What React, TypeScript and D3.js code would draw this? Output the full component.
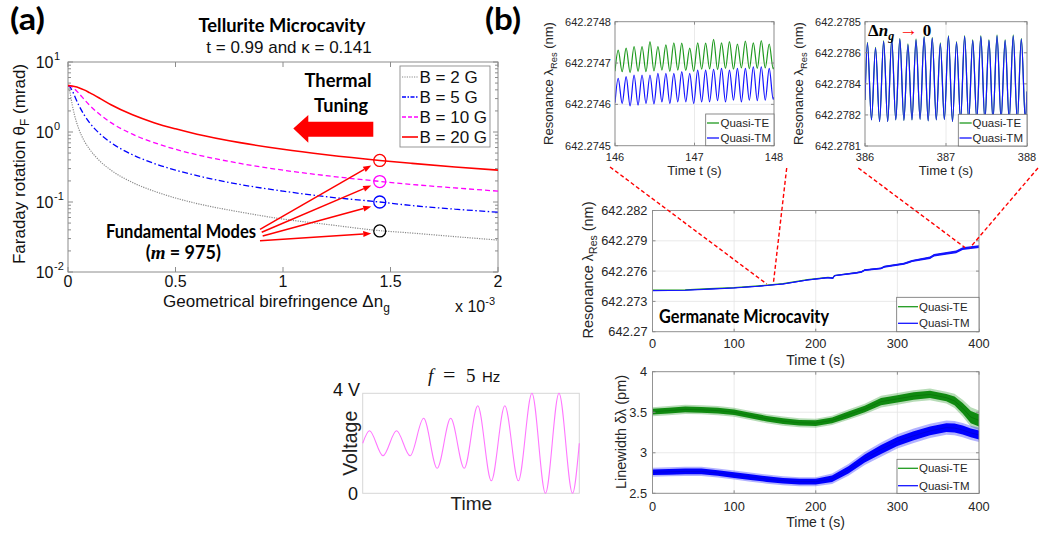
import React from "react";
import * as d3 from "d3";

const SANS = "'Liberation Sans', Arial, Helvetica, sans-serif";
const CAL = "Lato, 'Open Sans', 'DejaVu Sans', sans-serif";
const SERIF = "'Liberation Serif', 'DejaVu Serif', serif";

/* ---------------- Panel (a): Faraday rotation vs birefringence ---------------- */
const dnGrid = [0, 0.005, 0.01, 0.02, 0.03, 0.05, 0.075, 0.1, 0.15, 0.2, 0.3, 0.4, 0.5, 0.6, 0.8, 1.0, 1.2, 1.45, 1.6, 1.8, 2.0];
const theta2G = [4.6, 4.27, 3.58, 2.42, 1.76, 1.11, 0.75, 0.57, 0.38, 0.285, 0.19, 0.143, 0.114, 0.095, 0.072, 0.057, 0.048, 0.039, 0.036, 0.032, 0.0286];
const theta5G = [4.6, 4.54, 4.38, 3.87, 3.31, 2.42, 1.76, 1.36, 0.93, 0.705, 0.473, 0.356, 0.285, 0.238, 0.178, 0.143, 0.119, 0.1, 0.089, 0.079, 0.0715];
const theta10G = [4.6, 4.58, 4.54, 4.38, 4.14, 3.58, 2.93, 2.42, 1.76, 1.36, 0.93, 0.705, 0.566, 0.473, 0.356, 0.285, 0.238, 0.197, 0.178, 0.159, 0.143];
const theta20G = [4.6, 4.6, 4.59, 4.54, 4.47, 4.3, 4.0, 3.65, 3.0, 2.45, 1.76, 1.36, 1.11, 0.93, 0.705, 0.566, 0.473, 0.392, 0.356, 0.316, 0.285];
const fieldLabels = ["B = 2 G", "B = 5 G", "B = 10 G", "B = 20 G"];
const modeDn = 1.45;
const modeTheta = [0.0386, 0.1, 0.196, 0.392];
const dnTicks = [0, 0.5, 1, 1.5, 2];
const dnTickLabels = ["0", "0.5", "1", "1.5", "2"];
const thetaTicks = [0.01, 0.1, 1, 10];
const thetaExps = ["-2", "-1", "0", "1"];

/* ---------------- Panel (b) inset 146-148 s ---------------- */
const insetATimes = [146.0, 146.04, 146.09, 146.14, 146.19, 146.24, 146.29, 146.34, 146.39, 146.44, 146.49, 146.54, 146.59, 146.64, 146.69, 146.74, 146.79, 146.84, 146.89, 146.94, 146.99, 147.04, 147.09, 147.14, 147.19, 147.24, 147.29, 147.34, 147.39, 147.44, 147.49, 147.54, 147.59, 147.64, 147.69, 147.74, 147.79, 147.84, 147.89, 147.94, 147.99, 148.0];
const insetATE = [642.27468, 642.274731, 642.274679, 642.274736, 642.274677, 642.27474, 642.27468, 642.27474, 642.274679, 642.274752, 642.274681, 642.27474, 642.274683, 642.274744, 642.27468, 642.274749, 642.274683, 642.274748, 642.274682, 642.274736, 642.27468, 642.274749, 642.274685, 642.274748, 642.274686, 642.274757, 642.274684, 642.274749, 642.274687, 642.274752, 642.274685, 642.274746, 642.274688, 642.274753, 642.274686, 642.274749, 642.274687, 642.274754, 642.274688, 642.274746, 642.274686, 642.27469];
const insetATM = [642.274604, 642.274663, 642.274602, 642.274667, 642.274596, 642.274671, 642.274598, 642.274671, 642.274602, 642.274671, 642.274601, 642.274675, 642.274606, 642.274675, 642.274602, 642.274675, 642.274606, 642.274679, 642.274606, 642.274675, 642.274602, 642.274683, 642.274606, 642.274683, 642.274606, 642.274685, 642.274609, 642.274687, 642.274606, 642.274683, 642.27461, 642.274687, 642.274606, 642.274687, 642.27461, 642.274691, 642.274609, 642.274691, 642.27461, 642.274687, 642.274612, 642.274618];
const insetAYTicks = [642.2745, 642.2746, 642.2747, 642.2748];
const insetAYLabels = ["642.2745", "642.2746", "642.2747", "642.2748"];
const insetAXTicks = [146, 147, 148];

/* ---------------- Panel (b) inset 386-388 s ---------------- */
const insetBTimes = [386.0, 386.03, 386.08, 386.13, 386.18, 386.23, 386.28, 386.33, 386.38, 386.43, 386.48, 386.53, 386.58, 386.63, 386.68, 386.73, 386.78, 386.83, 386.88, 386.93, 386.98, 387.03, 387.08, 387.13, 387.18, 387.23, 387.28, 387.33, 387.38, 387.43, 387.48, 387.53, 387.58, 387.63, 387.68, 387.73, 387.78, 387.83, 387.88, 387.93, 387.98, 388.0];
const insetBTM = [642.2783226, 642.2785968, 642.278226, 642.2785726, 642.278218, 642.2786048, 642.278218, 642.2786129, 642.278226, 642.2786161, 642.278224, 642.2785887, 642.278226, 642.2786129, 642.278229, 642.2786258, 642.278221, 642.278621, 642.278226, 642.2785935, 642.278228, 642.278629, 642.278218, 642.2786, 642.278226, 642.278629, 642.278224, 642.2786097, 642.278226, 642.278629, 642.278222, 642.2786097, 642.278226, 642.2786323, 642.278228, 642.2786097, 642.278226, 642.2786323, 642.278223, 642.2786161, 642.278226, 642.278363];
const insetBTE = [642.2783226, 642.2786008, 642.278226, 642.2785766, 642.278218, 642.2786088, 642.278218, 642.2786169, 642.278226, 642.2786201, 642.278224, 642.2785927, 642.278226, 642.2786169, 642.278229, 642.2786298, 642.278221, 642.278625, 642.278226, 642.2785975, 642.278228, 642.278633, 642.278218, 642.278604, 642.278226, 642.278633, 642.278224, 642.2786137, 642.278226, 642.278633, 642.278222, 642.2786137, 642.278226, 642.2786363, 642.278228, 642.2786137, 642.278226, 642.2786363, 642.278223, 642.2786201, 642.278226, 642.278363];
const insetBYTicks = [642.2781, 642.27825, 642.2784, 642.27855, 642.2787];
const insetBYLabels = ["642.2781", "642.2782", "642.2784", "642.2786", "642.2785"];
const insetBXTicks = [386, 387, 388];

/* ---------------- Panel (b) resonance drift 0-400 s ---------------- */
const mainTimes = [0, 40, 70, 100, 130, 147, 160, 190, 215, 221, 223, 250, 256, 260, 280, 284, 308, 314, 318, 340, 345, 372, 380, 400];
const mainTM = [642.27407, 642.2741, 642.27422, 642.27433, 642.2745, 642.27463, 642.27473, 642.27512, 642.27535, 642.2753, 642.27555, 642.27583, 642.27592, 642.2761, 642.27627, 642.27643, 642.27673, 642.27688, 642.277, 642.27733, 642.27757, 642.2779, 642.27823, 642.27843];
const mainTE = [642.27411, 642.27414, 642.27426, 642.27437, 642.27454, 642.27466, 642.27476, 642.27515, 642.27538, 642.27533, 642.27557, 642.27585, 642.27593, 642.27611, 642.27628, 642.27644, 642.27674, 642.27689, 642.27701, 642.27734, 642.27758, 642.27791, 642.27824, 642.27844];
const mainTMSpread = [0.00003, 0.00003, 0.00003, 0.00004, 0.00004, 0.00004, 0.00005, 0.00006, 0.00006, 0.00007, 0.00007, 0.00008, 0.00008, 0.00009, 0.00009, 0.0001, 0.0001, 0.00011, 0.00011, 0.00012, 0.00012, 0.00013, 0.00013, 0.00014];
const mainYTicks = [642.27, 642.273, 642.276, 642.279, 642.282];
const mainYLabels = ["642.27", "642.273", "642.276", "642.279", "642.282"];
const timeTicks = [0, 100, 200, 300, 400];

/* ---------------- Panel (b) linewidth 0-400 s ---------------- */
const lwTimes = [0, 20, 40, 60, 80, 100, 120, 140, 160, 180, 200, 220, 240, 260, 280, 300, 320, 340, 360, 370, 380, 390, 400];
const lwTE = [3.507, 3.52, 3.535, 3.53, 3.52, 3.5, 3.46, 3.42, 3.39, 3.37, 3.365, 3.4, 3.47, 3.54, 3.63, 3.665, 3.7, 3.72, 3.68, 3.64, 3.55, 3.44, 3.4];
const lwTESpread = [0.035, 0.035, 0.035, 0.035, 0.035, 0.035, 0.035, 0.035, 0.035, 0.035, 0.035, 0.035, 0.04, 0.04, 0.045, 0.045, 0.045, 0.045, 0.045, 0.055, 0.065, 0.075, 0.075];
const lwTM = [2.76, 2.765, 2.77, 2.77, 2.75, 2.725, 2.7, 2.675, 2.655, 2.643, 2.643, 2.68, 2.79, 2.93, 3.04, 3.14, 3.21, 3.27, 3.31, 3.305, 3.28, 3.245, 3.22];
const lwTMSpread = [0.035, 0.035, 0.035, 0.035, 0.035, 0.035, 0.035, 0.035, 0.035, 0.035, 0.035, 0.04, 0.045, 0.05, 0.055, 0.055, 0.055, 0.055, 0.055, 0.055, 0.055, 0.055, 0.055];
const lwYTicks = [2.5, 3, 3.5, 4];
const lwYLabels = ["2.5", "3", "3.5", "4"];
const modeLabels = ["Quasi-TE", "Quasi-TM"];

/* ---------------- Drive signal (f = 5 Hz) ---------------- */
const driveTimes = [0, 0.05, 0.15, 0.25, 0.35, 0.45, 0.55, 0.65, 0.75, 0.85, 0.95, 1.05, 1.15, 1.25, 1.35, 1.45, 1.55, 1.6];
const driveVolts = [2, 2.5, 1.5, 2.5, 1.5, 3, 1, 3, 1, 3.5, 0.5, 3.5, 0.5, 4, 0, 4, 0, 2];

const TICK = "#262626";
const BOX = "#8c8c8c";
const GRID = "#e4e4e4";
const TE_COL = "#1f9a1f";
const TM_COL = "#1414ff";

type PanelProps = {
  id: string; l: number; r: number; t: number; b: number;
  xs: any; ys: any; xTicks: number[]; yTicks: number[]; yLabels: string[];
  fs: number; yLabelX: number; xLabelY: number; children?: any;
};

function TimePanel(p: PanelProps) {
  const { l, r, t, b, xs, ys } = p;
  return (
    <g>
      <defs>
        <clipPath id={p.id}><rect x={l} y={t} width={r - l} height={b - t} /></clipPath>
      </defs>
      <rect x={l} y={t} width={r - l} height={b - t} fill="#fff" />
      {p.xTicks.map((v, i) => (
        <line key={"gx" + i} x1={xs(v)} x2={xs(v)} y1={t} y2={b} stroke={GRID} strokeWidth={0.8} />
      ))}
      {p.yTicks.map((v, i) => (
        <line key={"gy" + i} x1={l} x2={r} y1={ys(v)} y2={ys(v)} stroke={GRID} strokeWidth={0.8} />
      ))}
      <g clipPath={`url(#${p.id})`}>{p.children}</g>
      <rect x={l} y={t} width={r - l} height={b - t} fill="none" stroke={BOX} strokeWidth={0.9} />
      {p.xTicks.map((v, i) => (
        <g key={"tx" + i}>
          <line x1={xs(v)} x2={xs(v)} y1={b} y2={b - 3} stroke={BOX} />
          <line x1={xs(v)} x2={xs(v)} y1={t} y2={t + 3} stroke={BOX} />
          <text x={xs(v)} y={p.xLabelY} textAnchor="middle" fontSize={p.fs} fontFamily={SANS} fill={TICK}>{v}</text>
        </g>
      ))}
      {p.yTicks.map((v, i) => (
        <g key={"ty" + i}>
          <line x1={l} x2={l + 3} y1={ys(v)} y2={ys(v)} stroke={BOX} />
          <line x1={r} x2={r - 3} y1={ys(v)} y2={ys(v)} stroke={BOX} />
          <text x={p.yLabelX} y={ys(v)} dy="0.36em" textAnchor="end" fontSize={p.fs} fontFamily={SANS} fill={TICK}>{p.yLabels[i]}</text>
        </g>
      ))}
    </g>
  );
}

function Legend(p: { x0: number; x1: number; y0: number; y1: number; lx0: number; lx1: number; tx: number; rows: number[]; fs: number }) {
  const cols = [TE_COL, TM_COL];
  return (
    <g>
      <rect x={p.x0} y={p.y0} width={p.x1 - p.x0} height={p.y1 - p.y0} fill="#fff" stroke="#6e6e6e" strokeWidth={0.8} />
      {modeLabels.map((lab, i) => (
        <g key={i}>
          <line x1={p.lx0} x2={p.lx1} y1={p.rows[i]} y2={p.rows[i]} stroke={cols[i]} strokeWidth={1.3} />
          <text x={p.tx} y={p.rows[i]} dy="0.36em" fontSize={p.fs} fontFamily={SANS} fill={TICK}>{lab}</text>
        </g>
      ))}
    </g>
  );
}

function ResLabel(p: { x: number; y: number; fs: number }) {
  return (
    <text transform={`translate(${p.x},${p.y}) rotate(-90)`} textAnchor="middle" fontSize={p.fs} fontFamily={SANS} fill={TICK}>
      Resonance λ<tspan fontSize={p.fs * 0.72} dy={p.fs * 0.3}>Res</tspan><tspan dy={-p.fs * 0.3}> (nm)</tspan>
    </text>
  );
}

function arrowParts(sx: number, sy: number, tx: number, ty: number, len = 8, half = 3) {
  const dx = tx - sx, dy = ty - sy;
  const L = Math.hypot(dx, dy);
  const ux = dx / L, uy = dy / L;
  const bx = tx - ux * len, by = ty - uy * len;
  const nx = -uy, ny = ux;
  return {
    line: [sx, sy, bx, by],
    head: `${tx},${ty} ${bx + nx * half},${by + ny * half} ${bx - nx * half},${by - ny * half}`,
  };
}

export default function App() {
  /* ---- panel (a) scales ---- */
  const A = { l: 68, r: 498, t: 62, b: 272 };
  const xA = d3.scaleLinear().domain([0, 2]).range([A.l, A.r]);
  const yA = d3.scaleLog().domain([0.01, 10]).range([A.b, A.t]);
  const lineA = d3.line<number>().x((_, i) => xA(dnGrid[i])).y((d) => yA(d)).curve(d3.curveMonotoneX);
  const seriesA = [theta2G, theta5G, theta10G, theta20G];
  const styleA = [
    { color: "#8a8a8a", dash: "1.2,1.2", w: 1.2 },
    { color: "#0000ff", dash: "6,2.5,1.5,2.5", w: 1.3 },
    { color: "#ff00ff", dash: "5,3", w: 1.3 },
    { color: "#ff0000", dash: undefined, w: 1.6 },
  ];
  const legendDash = ["1.2,1.2", "4,1.5,1.5,1.5", "4,2", undefined];
  const circleColors = ["#000000", "#0000ff", "#ff00ff", "#ff0000"];
  const arrowStarts = [[260, 240.7], [262.7, 236], [261.7, 232.3], [260, 229.3]];
  const arrowTipOffsets = [[-8.5, 2.5], [-8.5, 4.5], [-8.5, 4], [-8.5, 5]];
  const minorTicks = yA.ticks();

  /* ---- panel (b) scales ---- */
  const IA = { l: 615, r: 774, t: 21.7, b: 145.7 };
  const xIA = d3.scaleLinear().domain([146, 148]).range([IA.l, IA.r]);
  const yIA = d3.scaleLinear().domain([642.2745, 642.2748]).range([IA.b, IA.t]);
  const IB = { l: 865, r: 1027, t: 21.7, b: 146 };
  const xIB = d3.scaleLinear().domain([386, 388]).range([IB.l, IB.r]);
  const yIB = d3.scaleLinear().domain([642.2781, 642.2787]).range([IB.b, IB.t]);
  const M = { l: 652.5, r: 979, t: 210.5, b: 331.7 };
  const xM = d3.scaleLinear().domain([0, 400]).range([M.l, M.r]);
  const yM = d3.scaleLinear().domain([642.27, 642.282]).range([M.b, M.t]);
  const LW = { l: 652.5, r: 979, t: 371.7, b: 493.3 };
  const xL = d3.scaleLinear().domain([0, 400]).range([LW.l, LW.r]);
  const yL = d3.scaleLinear().domain([2.5, 4]).range([LW.b, LW.t]);

  const lineIA = (vals: number[]) => d3.line<number>().x((_, i) => xIA(insetATimes[i])).y((d) => yIA(d)).curve(d3.curveMonotoneX)(vals) || "";
  const lineIB = (vals: number[]) => d3.line<number>().x((_, i) => xIB(insetBTimes[i])).y((d) => yIB(d)).curve(d3.curveMonotoneX)(vals) || "";
  const lineM = (vals: number[]) => d3.line<number>().x((_, i) => xM(mainTimes[i])).y((d) => yM(d))(vals) || "";
  const bandM = d3.area<number>().x((_, i) => xM(mainTimes[i])).y0((d, i) => yM(d - mainTMSpread[i])).y1((d, i) => yM(d + mainTMSpread[i]))(mainTM) || "";
  const bandL = (vals: number[], spread: number[], k: number) =>
    d3.area<number>().x((_, i) => xL(lwTimes[i])).y0((d, i) => yL(d - spread[i] * k)).y1((d, i) => yL(d + spread[i] * k))(vals) || "";
  const lineL = (vals: number[]) => d3.line<number>().x((_, i) => xL(lwTimes[i])).y((d) => yL(d))(vals) || "";

  /* ---- drive signal ---- */
  const D = { l: 362.7, r: 579.3, t: 393.3, b: 493.3 };
  const xD = d3.scaleLinear().domain([0, 1.6]).range([D.l, D.r]);
  const yD = d3.scaleLinear().domain([0, 4]).range([D.b, D.t]);
  const drivePath = d3.line<number>().x((_, i) => xD(driveTimes[i])).y((d) => yD(d)).curve(d3.curveMonotoneX)(driveVolts) || "";

  /* zoom connector lines (annotation) */
  const connectors = [
    [610, 167, xM(140), yM(642.27472)],
    [786.7, 168, xM(148), yM(642.27472)],
    [858.3, 168, xM(383), yM(642.27832)],
    [1038, 168, xM(389), yM(642.27832)],
  ];

  return (
    <svg width={1039} height={535} style={{ position: "absolute", left: 0, top: 0, background: "#fff" }}>
      <rect x={0} y={0} width={1039} height={535} fill="#fff" />

      {/* ================= Panel (a) ================= */}
      <text x={10} y={30} fontFamily={CAL} fontWeight="bold" fontSize={30} textLength={35} lengthAdjust="spacingAndGlyphs">(a)</text>
      <text x={485} y={30} fontFamily={CAL} fontWeight="bold" fontSize={30} textLength={36} lengthAdjust="spacingAndGlyphs">(b)</text>
      <text x={282} y={31.7} textAnchor="middle" fontFamily={CAL} fontWeight="bold" fontSize={19.5} textLength={167} lengthAdjust="spacingAndGlyphs">Tellurite Microcavity</text>
      <text x={289} y={53.3} textAnchor="middle" fontFamily={SANS} fontSize={17} fill="#111">t = 0.99 and κ = 0.141</text>

      <rect x={A.l} y={A.t} width={A.r - A.l} height={A.b - A.t} fill="#fff" stroke={BOX} strokeWidth={1} />
      {minorTicks.map((v, i) => {
        const major = thetaTicks.includes(v);
        const len = major ? 5 : 3;
        return (
          <g key={"mt" + i}>
            <line x1={A.l} x2={A.l + len} y1={yA(v)} y2={yA(v)} stroke={BOX} />
            <line x1={A.r} x2={A.r - len} y1={yA(v)} y2={yA(v)} stroke={BOX} />
          </g>
        );
      })}
      {dnTicks.map((v, i) => (
        <g key={"xa" + i}>
          <line x1={xA(v)} x2={xA(v)} y1={A.b} y2={A.b - 5} stroke={BOX} />
          <line x1={xA(v)} x2={xA(v)} y1={A.t} y2={A.t + 5} stroke={BOX} />
          <text x={xA(v)} y={A.b + 15.3} textAnchor="middle" fontFamily={SANS} fontSize={16} fill="#111">{dnTickLabels[i]}</text>
        </g>
      ))}
      {thetaTicks.map((v, i) => (
        <g key={"ya" + i}>
          <text x={53.5} y={yA(v) + 6} textAnchor="end" fontFamily={SANS} fontSize={16} fill="#111">10</text>
          <text x={54} y={yA(v) - 2} textAnchor="start" fontFamily={SANS} fontSize={11} fill="#111">{thetaExps[i]}</text>
        </g>
      ))}
      <text x={163} y={307} fontFamily={SANS} fontSize={17} fill="#111">
        Geometrical birefringence Δn<tspan fontSize={12} dy={5}>g</tspan>
      </text>
      <text x={455} y={312.3} fontFamily={SANS} fontSize={16} fill="#111">
        x 10<tspan fontSize={11} dy={-7}>-3</tspan>
      </text>
      <text transform="translate(25,164) rotate(-90)" textAnchor="middle" fontFamily={SANS} fontSize={17} fill="#111">
        Faraday rotation  θ<tspan fontSize={12} dy={4}>F</tspan><tspan dy={-4}> (mrad)</tspan>
      </text>

      <defs>
        <clipPath id="clipA"><rect x={A.l} y={A.t} width={A.r - A.l} height={A.b - A.t} /></clipPath>
      </defs>
      <g clipPath="url(#clipA)">
        {seriesA.map((s, i) => (
          <path key={"ca" + i} d={lineA(s) || ""} fill="none" stroke={styleA[i].color} strokeWidth={styleA[i].w} strokeDasharray={styleA[i].dash} />
        ))}
      </g>
      {modeTheta.map((v, i) => (
        <circle key={"mc" + i} cx={xA(modeDn)} cy={yA(v)} r={6} fill="none" stroke={circleColors[i]} strokeWidth={1.3} />
      ))}

      {/* legend (a) */}
      <rect x={400} y={66} width={90} height={81} fill="#fff" stroke={BOX} strokeWidth={0.9} />
      {fieldLabels.map((lab, i) => (
        <g key={"la" + i}>
          <line x1={402} x2={418} y1={77 + i * 20} y2={77 + i * 20} stroke={styleA[i].color} strokeWidth={styleA[i].w} strokeDasharray={legendDash[i]} />
          <text x={419.5} y={77 + i * 20} dy="0.36em" fontFamily={SANS} fontSize={17} fill="#111">{lab}</text>
        </g>
      ))}

      {/* Thermal tuning */}
      <text x={338} y={87.3} textAnchor="middle" fontFamily={CAL} fontWeight="bold" fontSize={19.5} textLength={67} lengthAdjust="spacingAndGlyphs">Thermal</text>
      <text x={341} y={111.7} textAnchor="middle" fontFamily={CAL} fontWeight="bold" fontSize={19.5} textLength={54} lengthAdjust="spacingAndGlyphs">Tuning</text>
      <polygon points="373.3,121.7 308.3,121.7 308.3,115 293.3,128.5 308.3,142.7 308.3,136.7 373.3,136.7" fill="#ff0000" />

      {/* Fundamental modes */}
      <text x={181} y={238.3} textAnchor="middle" fontFamily={CAL} fontWeight="bold" fontSize={18} textLength={150} lengthAdjust="spacingAndGlyphs">Fundamental Modes</text>
      <text x={145.7} y={259.3} fontFamily={CAL} fontWeight="bold" fontSize={18}>
        (<tspan fontFamily={SERIF} fontStyle="italic" fontSize={19}>m</tspan> = 975)
      </text>
      {modeTheta.map((v, i) => {
        const tx = xA(modeDn) + arrowTipOffsets[i][0];
        const ty = yA(v) + arrowTipOffsets[i][1];
        const ap = arrowParts(arrowStarts[i][0], arrowStarts[i][1], tx, ty, 8, 3);
        return (
          <g key={"ar" + i}>
            <line x1={ap.line[0]} y1={ap.line[1]} x2={ap.line[2]} y2={ap.line[3]} stroke="#ff0000" strokeWidth={1.5} />
            <polygon points={ap.head} fill="#ff0000" />
          </g>
        );
      })}

      {/* ================= Panel (b) inset A ================= */}
      <TimePanel id="clipIA" l={IA.l} r={IA.r} t={IA.t} b={IA.b} xs={xIA} ys={yIA} xTicks={insetAXTicks} yTicks={insetAYTicks} yLabels={insetAYLabels} fs={11} yLabelX={611} xLabelY={161}>
        <path d={lineIA(insetATE)} fill="none" stroke={TE_COL} strokeWidth={1.2} />
        <path d={lineIA(insetATM)} fill="none" stroke={TM_COL} strokeWidth={1.2} />
      </TimePanel>
      <Legend x0={705.7} x1={774} y0={114} y1={145.7} lx0={707} lx1={719} tx={720.5} rows={[123, 138]} fs={11.5} />
      <text x={694.5} y={175} textAnchor="middle" fontFamily={SANS} fontSize={13} fill={TICK}>Time t (s)</text>
      <ResLabel x={553} y={83.5} fs={13} />

      {/* ================= Panel (b) inset B ================= */}
      <TimePanel id="clipIB" l={IB.l} r={IB.r} t={IB.t} b={IB.b} xs={xIB} ys={yIB} xTicks={insetBXTicks} yTicks={insetBYTicks} yLabels={insetBYLabels} fs={11} yLabelX={861} xLabelY={161}>
        <path d={lineIB(insetBTE)} fill="none" stroke={TE_COL} strokeWidth={1.2} />
        <path d={lineIB(insetBTM)} fill="none" stroke={TM_COL} strokeWidth={1.2} />
      </TimePanel>
      <Legend x0={958.3} x1={1027} y0={114.3} y1={146} lx0={959.5} lx1={971.7} tx={972.5} rows={[123, 138]} fs={11.5} />
      <text x={946} y={175} textAnchor="middle" fontFamily={SANS} fontSize={13} fill={TICK}>Time t (s)</text>
      <ResLabel x={803} y={83.5} fs={13} />
      <text x={868} y={36} fontFamily={SERIF} fontWeight="bold" fontSize={17} fill="#000">
        Δ<tspan fontStyle="italic">n</tspan><tspan fontStyle="italic" fontSize={12} dy={4}>g</tspan><tspan dy={-4} fill="#ff0000" fontWeight="normal" fontSize={19}> → </tspan>0
      </text>

      {/* ================= Panel (b) main ================= */}
      <TimePanel id="clipM" l={M.l} r={M.r} t={M.t} b={M.b} xs={xM} ys={yM} xTicks={timeTicks} yTicks={mainYTicks} yLabels={mainYLabels} fs={12.8} yLabelX={647.5} xLabelY={348}>
        <path d={lineM(mainTE)} fill="none" stroke={TE_COL} strokeWidth={1.2} />
        <path d={bandM} fill={TM_COL} stroke="none" />
        <path d={lineM(mainTM)} fill="none" stroke={TM_COL} strokeWidth={1.1} />
      </TimePanel>
      <Legend x0={896.7} x1={979} y0={297.3} y1={331.7} lx0={898} lx1={918} tx={919} rows={[306.7, 323.3]} fs={11.5} />
      <text x={659} y={322.7} fontFamily={CAL} fontWeight="bold" fontSize={18} textLength={170} lengthAdjust="spacingAndGlyphs">Germanate Microcavity</text>
      <text x={815.6} y={365} textAnchor="middle" fontFamily={SANS} fontSize={14} fill={TICK}>Time t (s)</text>
      <ResLabel x={593} y={270} fs={14.5} />

      {/* ================= Panel (b) linewidth ================= */}
      <TimePanel id="clipL" l={LW.l} r={LW.r} t={LW.t} b={LW.b} xs={xL} ys={yL} xTicks={timeTicks} yTicks={lwYTicks} yLabels={lwYLabels} fs={12.8} yLabelX={647} xLabelY={510.5}>
        <path d={bandL(lwTE, lwTESpread, 1.6)} fill="#108a10" fillOpacity={0.3} stroke="none" />
        <path d={bandL(lwTE, lwTESpread, 1)} fill="#108a10" stroke="none" />
        <path d={lineL(lwTE)} fill="none" stroke="#0a7a0a" strokeWidth={1} />
        <path d={bandL(lwTM, lwTMSpread, 1.6)} fill="#0000ff" fillOpacity={0.3} stroke="none" />
        <path d={bandL(lwTM, lwTMSpread, 1)} fill="#0000ff" stroke="none" />
        <path d={lineL(lwTM)} fill="none" stroke="#0000e0" strokeWidth={1} />
      </TimePanel>
      <Legend x0={897} x1={979} y0={459.3} y1={493.3} lx0={898} lx1={918} tx={919} rows={[468.3, 485.7]} fs={11.5} />
      <text x={815.6} y={527} textAnchor="middle" fontFamily={SANS} fontSize={14} fill={TICK}>Time t (s)</text>
      <text transform="translate(626,432) rotate(-90)" textAnchor="middle" fontFamily={SANS} fontSize={14.5} fill={TICK}>Linewidth δλ (pm)</text>

      {/* connectors */}
      {connectors.map((c, i) => (
        <line key={"cn" + i} x1={c[0]} y1={c[1]} x2={c[2]} y2={c[3]} stroke="#ff0000" strokeWidth={1.4} strokeDasharray="4,2.5" />
      ))}

      {/* ================= Drive signal ================= */}
      <text y={382} fontSize={19} fill="#111">
        <tspan x={428} fontFamily={SERIF} fontStyle="italic">f</tspan>
        <tspan x={443} fontFamily={SERIF} fontSize={22}>=</tspan>
        <tspan x={466} fontFamily={SERIF}>5</tspan>
        <tspan x={482} fontFamily={SANS} fontSize={15}>Hz</tspan>
      </text>
      <rect x={D.l} y={D.t} width={D.r - D.l} height={D.b - D.t} fill="#fff" stroke="#d6d6d6" strokeWidth={1} />
      <path d={drivePath} fill="none" stroke="#ff77ff" strokeWidth={1.1} />
      <text x={360} y={395.7} textAnchor="end" fontFamily={SANS} fontSize={18} fill="#111">4 V</text>
      <text x={358} y={499.5} textAnchor="end" fontFamily={SANS} fontSize={18} fill="#111">0</text>
      <text transform="translate(357,443.3) rotate(-90)" textAnchor="middle" fontFamily={SANS} fontSize={19.5} fill="#222">Voltage</text>
      <text x={471.3} y={510} textAnchor="middle" fontFamily={SANS} fontSize={19} fill="#222">Time</text>
    </svg>
  );
}
